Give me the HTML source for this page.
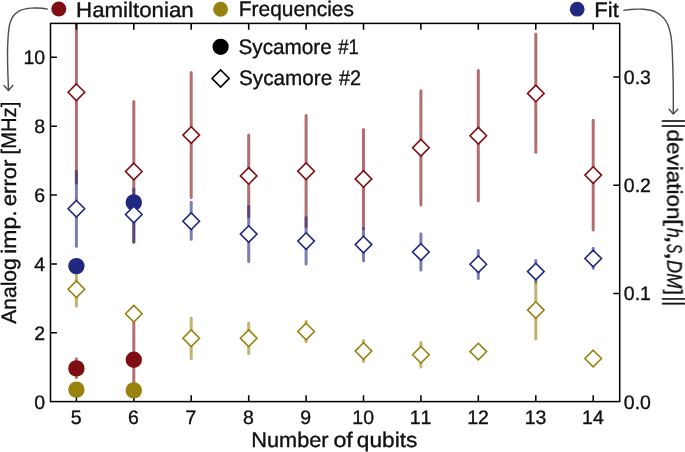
<!DOCTYPE html>
<html><head><meta charset="utf-8"><title>chart</title>
<style>html,body{margin:0;padding:0;background:#fff;width:685px;height:452px;overflow:hidden}svg{display:block}text{white-space:pre;text-rendering:geometricPrecision;font-kerning:none}</style>
</head><body>
<svg width="685" height="452" viewBox="0 0 685 452" style="position:absolute;left:0;top:0">
<rect width="685" height="452" fill="#fff"/>
<defs><clipPath id="ax"><rect x="50.5" y="23.4" width="569.2" height="378.2"/></clipPath></defs>
<g clip-path="url(#ax)">
<line x1="76.4" x2="76.4" y1="-29.0" y2="183.1" stroke="#7f0e12" stroke-opacity="0.6" stroke-width="3" stroke-linecap="round"/>
<line x1="133.8" x2="133.8" y1="101.4" y2="242.5" stroke="#7f0e12" stroke-opacity="0.6" stroke-width="3" stroke-linecap="round"/>
<line x1="191.2" x2="191.2" y1="72.5" y2="197.4" stroke="#7f0e12" stroke-opacity="0.6" stroke-width="3" stroke-linecap="round"/>
<line x1="248.7" x2="248.7" y1="135.0" y2="216.7" stroke="#7f0e12" stroke-opacity="0.6" stroke-width="3" stroke-linecap="round"/>
<line x1="306.1" x2="306.1" y1="115.6" y2="226.8" stroke="#7f0e12" stroke-opacity="0.6" stroke-width="3" stroke-linecap="round"/>
<line x1="363.5" x2="363.5" y1="129.4" y2="228.4" stroke="#7f0e12" stroke-opacity="0.6" stroke-width="3" stroke-linecap="round"/>
<line x1="420.9" x2="420.9" y1="90.8" y2="205.0" stroke="#7f0e12" stroke-opacity="0.6" stroke-width="3" stroke-linecap="round"/>
<line x1="478.3" x2="478.3" y1="70.5" y2="200.8" stroke="#7f0e12" stroke-opacity="0.6" stroke-width="3" stroke-linecap="round"/>
<line x1="535.8" x2="535.8" y1="34.1" y2="152.3" stroke="#7f0e12" stroke-opacity="0.6" stroke-width="3" stroke-linecap="round"/>
<line x1="593.2" x2="593.2" y1="120.3" y2="230.0" stroke="#7f0e12" stroke-opacity="0.6" stroke-width="3" stroke-linecap="round"/>
<line x1="76.4" x2="76.4" y1="171.3" y2="246.2" stroke="#212880" stroke-opacity="0.6" stroke-width="3" stroke-linecap="round"/>
<line x1="133.8" x2="133.8" y1="188.8" y2="241.5" stroke="#212880" stroke-opacity="0.6" stroke-width="3" stroke-linecap="round"/>
<line x1="191.2" x2="191.2" y1="202.3" y2="239.2" stroke="#212880" stroke-opacity="0.6" stroke-width="3" stroke-linecap="round"/>
<line x1="248.7" x2="248.7" y1="206.2" y2="261.5" stroke="#212880" stroke-opacity="0.6" stroke-width="3" stroke-linecap="round"/>
<line x1="306.1" x2="306.1" y1="217.5" y2="264.0" stroke="#212880" stroke-opacity="0.6" stroke-width="3" stroke-linecap="round"/>
<line x1="363.5" x2="363.5" y1="228.5" y2="260.7" stroke="#212880" stroke-opacity="0.6" stroke-width="3" stroke-linecap="round"/>
<line x1="420.9" x2="420.9" y1="233.7" y2="269.9" stroke="#212880" stroke-opacity="0.6" stroke-width="3" stroke-linecap="round"/>
<line x1="478.3" x2="478.3" y1="250.5" y2="278.4" stroke="#212880" stroke-opacity="0.6" stroke-width="3" stroke-linecap="round"/>
<line x1="535.8" x2="535.8" y1="260.5" y2="282.5" stroke="#212880" stroke-opacity="0.6" stroke-width="3" stroke-linecap="round"/>
<line x1="593.2" x2="593.2" y1="248.2" y2="268.3" stroke="#212880" stroke-opacity="0.6" stroke-width="3" stroke-linecap="round"/>
<line x1="76.4" x2="76.4" y1="272.3" y2="306.1" stroke="#97820f" stroke-opacity="0.6" stroke-width="3" stroke-linecap="round"/>
<line x1="133.8" x2="133.8" y1="309.0" y2="318.0" stroke="#97820f" stroke-opacity="0.6" stroke-width="3" stroke-linecap="round"/>
<line x1="191.2" x2="191.2" y1="317.9" y2="358.6" stroke="#97820f" stroke-opacity="0.6" stroke-width="3" stroke-linecap="round"/>
<line x1="248.7" x2="248.7" y1="322.9" y2="353.6" stroke="#97820f" stroke-opacity="0.6" stroke-width="3" stroke-linecap="round"/>
<line x1="306.1" x2="306.1" y1="321.2" y2="341.8" stroke="#97820f" stroke-opacity="0.6" stroke-width="3" stroke-linecap="round"/>
<line x1="363.5" x2="363.5" y1="340.5" y2="361.4" stroke="#97820f" stroke-opacity="0.6" stroke-width="3" stroke-linecap="round"/>
<line x1="420.9" x2="420.9" y1="342.5" y2="366.9" stroke="#97820f" stroke-opacity="0.6" stroke-width="3" stroke-linecap="round"/>
<line x1="478.3" x2="478.3" y1="348.0" y2="355.0" stroke="#97820f" stroke-opacity="0.6" stroke-width="3" stroke-linecap="round"/>
<line x1="535.8" x2="535.8" y1="281.7" y2="338.9" stroke="#97820f" stroke-opacity="0.6" stroke-width="3" stroke-linecap="round"/>
<line x1="593.2" x2="593.2" y1="355.0" y2="362.0" stroke="#97820f" stroke-opacity="0.6" stroke-width="3" stroke-linecap="round"/>
<line x1="76.4" x2="76.4" y1="358.8" y2="377.6" stroke="#7f0e12" stroke-opacity="0.6" stroke-width="3" stroke-linecap="round"/>
<line x1="133.8" x2="133.8" y1="323.0" y2="391.0" stroke="#7f0e12" stroke-opacity="0.6" stroke-width="3" stroke-linecap="round"/>
<line x1="76.4" x2="76.4" y1="263.0" y2="269.0" stroke="#212880" stroke-opacity="0.6" stroke-width="3" stroke-linecap="round"/>
<line x1="133.8" x2="133.8" y1="199.0" y2="206.0" stroke="#212880" stroke-opacity="0.6" stroke-width="3" stroke-linecap="round"/>
<line x1="76.4" x2="76.4" y1="387.0" y2="392.0" stroke="#97820f" stroke-opacity="0.6" stroke-width="3" stroke-linecap="round"/>
<line x1="133.8" x2="133.8" y1="388.0" y2="393.0" stroke="#97820f" stroke-opacity="0.6" stroke-width="3" stroke-linecap="round"/>
</g>
<path d="M76.4 23.4v6.4M76.4 401.6v-6.4M133.8 23.4v6.4M133.8 401.6v-6.4M191.2 23.4v6.4M191.2 401.6v-6.4M248.7 23.4v6.4M248.7 401.6v-6.4M306.1 23.4v6.4M306.1 401.6v-6.4M363.5 23.4v6.4M363.5 401.6v-6.4M420.9 23.4v6.4M420.9 401.6v-6.4M478.3 23.4v6.4M478.3 401.6v-6.4M535.8 23.4v6.4M535.8 401.6v-6.4M593.2 23.4v6.4M593.2 401.6v-6.4M50.5 332.7h6.4M50.5 263.9h6.4M50.5 195.0h6.4M50.5 126.2h6.4M50.5 57.3h6.4M619.7 293.4h-6.4M619.7 185.2h-6.4M619.7 77.0h-6.4" stroke="#000" stroke-width="1.55" fill="none"/>
<rect x="50.5" y="23.4" width="569.2" height="378.2" fill="none" stroke="#000" stroke-width="1.5"/>
<g clip-path="url(#ax)">
<circle cx="76.4" cy="368.4" r="8.2" fill="#7f0e12"/>
<circle cx="133.8" cy="359.8" r="8.2" fill="#7f0e12"/>
<circle cx="76.4" cy="266.1" r="8.2" fill="#212880"/>
<circle cx="133.8" cy="202.4" r="8.2" fill="#212880"/>
<circle cx="76.4" cy="389.6" r="8.2" fill="#97820f"/>
<circle cx="133.8" cy="390.4" r="8.2" fill="#97820f"/>
<path d="M76.4 84.0L84.7 92.3L76.4 100.6L68.1 92.3Z" fill="#fff" stroke="#7f0e12" stroke-width="1.6"/>
<path d="M133.8 163.2L142.1 171.5L133.8 179.8L125.5 171.5Z" fill="#fff" stroke="#7f0e12" stroke-width="1.6"/>
<path d="M191.2 126.8L199.5 135.1L191.2 143.4L182.9 135.1Z" fill="#fff" stroke="#7f0e12" stroke-width="1.6"/>
<path d="M248.7 167.6L257.0 175.9L248.7 184.2L240.4 175.9Z" fill="#fff" stroke="#7f0e12" stroke-width="1.6"/>
<path d="M306.1 162.9L314.4 171.2L306.1 179.5L297.8 171.2Z" fill="#fff" stroke="#7f0e12" stroke-width="1.6"/>
<path d="M363.5 170.6L371.8 178.9L363.5 187.2L355.2 178.9Z" fill="#fff" stroke="#7f0e12" stroke-width="1.6"/>
<path d="M420.9 139.4L429.2 147.7L420.9 156.0L412.6 147.7Z" fill="#fff" stroke="#7f0e12" stroke-width="1.6"/>
<path d="M478.3 127.4L486.6 135.7L478.3 144.0L470.0 135.7Z" fill="#fff" stroke="#7f0e12" stroke-width="1.6"/>
<path d="M535.8 85.1L544.1 93.4L535.8 101.7L527.5 93.4Z" fill="#fff" stroke="#7f0e12" stroke-width="1.6"/>
<path d="M593.2 166.8L601.5 175.1L593.2 183.4L584.9 175.1Z" fill="#fff" stroke="#7f0e12" stroke-width="1.6"/>
<path d="M76.4 200.5L84.7 208.8L76.4 217.1L68.1 208.8Z" fill="#fff" stroke="#212880" stroke-width="1.6"/>
<path d="M133.8 206.2L142.1 214.5L133.8 222.8L125.5 214.5Z" fill="#fff" stroke="#212880" stroke-width="1.6"/>
<path d="M191.2 212.9L199.5 221.2L191.2 229.5L182.9 221.2Z" fill="#fff" stroke="#212880" stroke-width="1.6"/>
<path d="M248.7 225.8L257.0 234.1L248.7 242.4L240.4 234.1Z" fill="#fff" stroke="#212880" stroke-width="1.6"/>
<path d="M306.1 232.8L314.4 241.1L306.1 249.4L297.8 241.1Z" fill="#fff" stroke="#212880" stroke-width="1.6"/>
<path d="M363.5 236.3L371.8 244.6L363.5 252.9L355.2 244.6Z" fill="#fff" stroke="#212880" stroke-width="1.6"/>
<path d="M420.9 243.7L429.2 252.0L420.9 260.3L412.6 252.0Z" fill="#fff" stroke="#212880" stroke-width="1.6"/>
<path d="M478.3 256.0L486.6 264.3L478.3 272.6L470.0 264.3Z" fill="#fff" stroke="#212880" stroke-width="1.6"/>
<path d="M535.8 263.3L544.1 271.6L535.8 279.9L527.5 271.6Z" fill="#fff" stroke="#212880" stroke-width="1.6"/>
<path d="M593.2 250.2L601.5 258.5L593.2 266.8L584.9 258.5Z" fill="#fff" stroke="#212880" stroke-width="1.6"/>
<path d="M76.4 280.9L84.7 289.2L76.4 297.5L68.1 289.2Z" fill="#fff" stroke="#97820f" stroke-width="1.6"/>
<path d="M133.8 305.4L142.1 313.7L133.8 322.0L125.5 313.7Z" fill="#fff" stroke="#97820f" stroke-width="1.6"/>
<path d="M191.2 329.9L199.5 338.2L191.2 346.5L182.9 338.2Z" fill="#fff" stroke="#97820f" stroke-width="1.6"/>
<path d="M248.7 329.9L257.0 338.2L248.7 346.5L240.4 338.2Z" fill="#fff" stroke="#97820f" stroke-width="1.6"/>
<path d="M306.1 323.2L314.4 331.5L306.1 339.8L297.8 331.5Z" fill="#fff" stroke="#97820f" stroke-width="1.6"/>
<path d="M363.5 342.8L371.8 351.1L363.5 359.4L355.2 351.1Z" fill="#fff" stroke="#97820f" stroke-width="1.6"/>
<path d="M420.9 346.5L429.2 354.8L420.9 363.1L412.6 354.8Z" fill="#fff" stroke="#97820f" stroke-width="1.6"/>
<path d="M478.3 343.3L486.6 351.6L478.3 359.9L470.0 351.6Z" fill="#fff" stroke="#97820f" stroke-width="1.6"/>
<path d="M535.8 301.8L544.1 310.1L535.8 318.4L527.5 310.1Z" fill="#fff" stroke="#97820f" stroke-width="1.6"/>
<path d="M593.2 350.2L601.5 358.5L593.2 366.8L584.9 358.5Z" fill="#fff" stroke="#97820f" stroke-width="1.6"/>
</g>
<g font-family="'Liberation Sans', sans-serif" fill="#111" opacity="0.999" stroke="#111" stroke-width="0.35">
<text x="76.1" y="424.0" font-size="19.5" text-anchor="middle">5</text>
<text x="133.5" y="424.0" font-size="19.5" text-anchor="middle">6</text>
<text x="190.9" y="424.0" font-size="19.5" text-anchor="middle">7</text>
<text x="248.4" y="424.0" font-size="19.5" text-anchor="middle">8</text>
<text x="305.8" y="424.0" font-size="19.5" text-anchor="middle">9</text>
<text x="363.2" y="424.0" font-size="19.5" text-anchor="middle">10</text>
<text x="420.6" y="424.0" font-size="19.5" text-anchor="middle">11</text>
<text x="478.0" y="424.0" font-size="19.5" text-anchor="middle">12</text>
<text x="535.5" y="424.0" font-size="19.5" text-anchor="middle">13</text>
<text x="592.9" y="424.0" font-size="19.5" text-anchor="middle">14</text>
<text x="45.2" y="408.6" font-size="19.5" text-anchor="end">0</text>
<text x="45.2" y="339.7" font-size="19.5" text-anchor="end">2</text>
<text x="45.2" y="270.9" font-size="19.5" text-anchor="end">4</text>
<text x="45.2" y="202.0" font-size="19.5" text-anchor="end">6</text>
<text x="45.2" y="133.2" font-size="19.5" text-anchor="end">8</text>
<text x="45.2" y="64.3" font-size="19.5" text-anchor="end">10</text>
<text x="623.8" y="408.6" font-size="19.5" text-anchor="start">0.0</text>
<text x="623.8" y="300.4" font-size="19.5" text-anchor="start">0.1</text>
<text x="623.8" y="192.2" font-size="19.5" text-anchor="start">0.2</text>
<text x="623.8" y="84.0" font-size="19.5" text-anchor="start">0.3</text>
<text y="16.60" font-size="21"><tspan x="76.05" textLength="117.62" lengthAdjust="spacingAndGlyphs">Hamiltonian</tspan></text>
<text y="16.40" font-size="21"><tspan x="238.76" textLength="115.12" lengthAdjust="spacingAndGlyphs">Frequencies</tspan></text>
<text y="16.80" font-size="21"><tspan x="594.26" textLength="24.52" lengthAdjust="spacingAndGlyphs">Fit</tspan></text>
<text y="54.00" font-size="21"><tspan x="238.53" textLength="93.21" lengthAdjust="spacingAndGlyphs">Sycamore</tspan> <tspan x="338.29" textLength="20.64" lengthAdjust="spacingAndGlyphs">#1</tspan></text>
<text y="85.00" font-size="21"><tspan x="239.03" textLength="93.21" lengthAdjust="spacingAndGlyphs">Sycamore</tspan> <tspan x="338.89" textLength="22.03" lengthAdjust="spacingAndGlyphs">#2</tspan></text>
<text y="447.00" font-size="21"><tspan x="251.29" textLength="77.29" lengthAdjust="spacingAndGlyphs">Number</tspan> <tspan x="333.40" textLength="19.39" lengthAdjust="spacingAndGlyphs">of</tspan> <tspan x="356.82" textLength="60.52" lengthAdjust="spacingAndGlyphs">qubits</tspan></text>
<text transform="translate(16.40 0) rotate(-90)" font-size="21"><tspan x="-323.67" textLength="65.34" lengthAdjust="spacingAndGlyphs">Analog</tspan> <tspan x="-253.77" textLength="43.49" lengthAdjust="spacingAndGlyphs">imp.</tspan> <tspan x="-206.26" textLength="46.66" lengthAdjust="spacingAndGlyphs">error</tspan> <tspan x="-154.46" textLength="52.73" lengthAdjust="spacingAndGlyphs">[MHz]</tspan></text>
<text transform="translate(667.30 0) rotate(90)" font-size="21"><tspan x="118.49" textLength="10.06" lengthAdjust="spacingAndGlyphs" font-size="24.2">||</tspan><tspan x="129.53" textLength="89.85" lengthAdjust="spacingAndGlyphs">deviation</tspan><tspan x="219.06" textLength="7.06" lengthAdjust="spacingAndGlyphs">[</tspan><tspan x="227.87" textLength="10.08" lengthAdjust="spacingAndGlyphs" font-style="italic">h</tspan><tspan x="235.28" textLength="8.63" lengthAdjust="spacingAndGlyphs">,</tspan><tspan x="243.67" textLength="9.51" lengthAdjust="spacingAndGlyphs" font-style="italic">S</tspan><tspan x="251.88" textLength="8.63" lengthAdjust="spacingAndGlyphs">,</tspan><tspan x="260.12" textLength="28.31" lengthAdjust="spacingAndGlyphs" font-style="italic">DM</tspan><tspan x="289.52" textLength="5.38" lengthAdjust="spacingAndGlyphs">]</tspan><tspan x="296.51" textLength="9.68" lengthAdjust="spacingAndGlyphs" font-size="24.2">||</tspan></text>
</g>
<circle cx="58.8" cy="9.0" r="7.5" fill="#7f0e12"/>
<circle cx="220.6" cy="9.3" r="7.45" fill="#97820f"/>
<circle cx="577.2" cy="9.2" r="7.4" fill="#212880"/>
<circle cx="220.6" cy="46.8" r="8.1" fill="#000"/>
<path d="M220.6 69.9L229.2 78.4L220.6 87.0L212.0 78.4Z" fill="#fff" stroke="#000" stroke-width="1.6"/>
<g fill="none" stroke="#4c4c4c" stroke-width="1.4" stroke-linecap="round" stroke-linejoin="round">
<path d="M47.40 9.10C46.52 8.97 43.92 8.48 42.10 8.30C40.28 8.12 38.35 8.03 36.50 8.00C34.65 7.97 32.83 7.96 31.00 8.10C29.17 8.24 27.17 8.50 25.50 8.85C23.83 9.20 22.48 9.56 21.00 10.20C19.52 10.84 17.88 11.73 16.60 12.70C15.32 13.67 14.22 14.80 13.30 16.00C12.38 17.20 11.75 18.32 11.10 19.90C10.45 21.48 9.83 23.47 9.40 25.50C8.97 27.53 8.73 29.90 8.50 32.10C8.27 34.30 8.15 35.93 8.00 38.70C7.85 41.47 7.67 45.82 7.60 48.70C7.52 51.58 7.53 53.03 7.55 56.00C7.57 58.97 7.61 62.53 7.70 66.50C7.79 70.47 7.97 75.85 8.10 79.80C8.23 83.75 8.43 88.47 8.50 90.20"/>
<path d="M4.0 85.5L8.5 90.5L12.8 85.5"/>
<path d="M624.00 10.30C625.10 10.18 628.40 9.74 630.60 9.55C632.80 9.36 634.98 9.19 637.20 9.15C639.42 9.11 641.68 9.11 643.90 9.30C646.12 9.49 648.52 9.82 650.50 10.30C652.48 10.78 654.03 11.30 655.80 12.20C657.57 13.10 659.55 14.42 661.10 15.70C662.65 16.98 663.95 18.32 665.10 19.90C666.25 21.48 667.17 23.22 668.00 25.20C668.83 27.18 669.55 29.58 670.10 31.80C670.65 34.02 670.98 36.07 671.30 38.50C671.62 40.93 671.80 43.15 672.00 46.40C672.20 49.65 672.35 54.07 672.50 58.00C672.65 61.93 672.78 65.67 672.90 70.00C673.02 74.33 673.13 79.33 673.20 84.00C673.27 88.67 673.28 93.03 673.30 98.00C673.32 102.97 673.30 111.17 673.30 113.80"/>
<path d="M669.1 109.3L673.3 114.1L677.8 109.3"/>
</g>
</svg>
</body></html>
